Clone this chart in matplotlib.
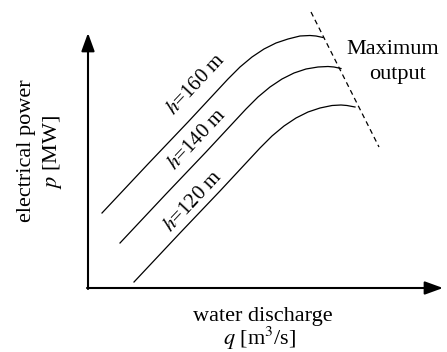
import matplotlib.pyplot as plt

plt.rcParams['font.family'] = ['Liberation Serif', 'DejaVu Serif']
plt.rcParams['mathtext.fontset'] = 'stix'

# curve points (x = water discharge, y = electrical power), arbitrary units
q_160 = [14, 60, 100, 140, 152, 164, 176, 188, 200, 212, 222, 228, 235]
p_160 = [75, 124, 166, 209, 221, 231, 239, 245, 249, 252, 252.5, 252, 250.5]

q_140 = [32, 78, 118, 158, 170, 182, 194, 206, 218, 230, 240, 246, 253]
p_140 = [45, 94, 136, 179, 191, 201, 209, 215, 219, 221, 221.5, 221, 219.5]

q_120 = [46, 92, 132, 172, 184, 196, 208, 220, 232, 244, 253, 259, 267]
p_120 = [6, 55, 97, 140, 152, 162, 170, 176, 180, 182.5, 183, 182.5, 181]

# maximum output line
q_max = [223, 291]
p_max = [276, 141]

labels = ['$h$=160 m', '$h$=140 m', '$h$=120 m']
label_pos = [(108, 203), (109, 148), (105, 86)]

fig = plt.figure(figsize=(4.47, 3.52), dpi=100)
ax = fig.add_axes([0, 0, 1, 1])
ax.set_xlim(-88, 359)
ax.set_ylim(-64, 288)
ax.axis('off')

# axes with arrows
arrow = dict(arrowstyle='-|>,head_length=0.55,head_width=0.2', lw=1.5, color='black',
             mutation_scale=20, shrinkA=0, shrinkB=0)
ax.annotate('', xy=(355, 0), xytext=(-1, 0), arrowprops=arrow)
ax.annotate('', xy=(0, 255), xytext=(0, -1), arrowprops=arrow)

for q, p in [(q_160, p_160), (q_140, p_140), (q_120, p_120)]:
    ax.plot(q, p, color='black', lw=0.9, solid_joinstyle='round')

ax.plot(q_max, p_max, color='black', lw=0.9, ls=(0, (4, 3)))

for lab, (x, y) in zip(labels, label_pos):
    ax.text(x, y, lab, rotation=47, ha='center', va='center', fontsize=15)

ax.text(305, 238, 'Maximum', ha='center', va='center', fontsize=16)
ax.text(309, 213, 'output', ha='center', va='center', fontsize=16)

ax.text(175, -28, 'water discharge', ha='center', va='center', fontsize=16)
ax.text(172, -50, '$q$ [m$^3$/s]', ha='center', va='center', fontsize=16)

ax.text(-61, 137, 'electrical power', rotation=90, ha='center', va='center', fontsize=16)
ax.text(-35, 136, '$p$ [MW]', rotation=90, ha='center', va='center', fontsize=16)

fig.savefig('out.png', dpi=100)
